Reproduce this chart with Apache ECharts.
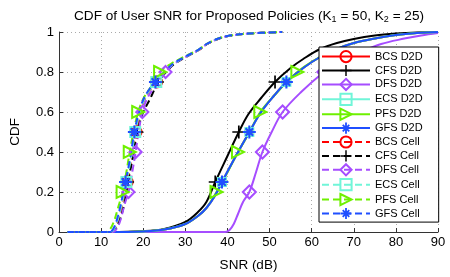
<!DOCTYPE html>
<html>
<head>
<meta charset="utf-8">
<script src="https://cdn.jsdelivr.net/npm/echarts@6/dist/echarts.min.js"></script>
<style>html,body{margin:0;padding:0;background:#fff}#c{width:450px;height:277px}</style>
</head>
<body>
<div id="c"></div>
<script>
// ---- data (SNR dB, CDF) ----
const seriesNames = ['BCS D2D','CFS D2D','DFS D2D','ECS D2D','PFS D2D','GFS D2D',
                     'BCS Cell','CFS Cell','DFS Cell','ECS Cell','PFS Cell','GFS Cell'];
const xTicks = [0,10,20,30,40,50,60,70,80,90];
const yTicks = [0,0.2,0.4,0.6,0.8,1];
const levels3 = [0.25,0.5,0.75];
const levels4 = [0.2,0.4,0.6,0.8];

const gfsD2D = [[2,0],[12,0],[20,0.003],[25,0.012],[30,0.04],[33,0.08],[35,0.12],[37,0.18],[38.7,0.25],[42,0.38],[45.2,0.5],[48,0.6],[51,0.68],[54,0.75],[58,0.82],[62,0.875],[66,0.915],[70,0.945],[75,0.968],[80,0.985],[85,0.995],[90,1]];
const bcsD2D = [[2,0],[12,0],[20,0.003],[25,0.012],[30,0.04],[33,0.08],[35,0.12],[37,0.18],[38.7,0.25],[42,0.38],[45.2,0.5],[48,0.6],[51,0.68],[54,0.75],[58,0.82],[62,0.875],[66,0.915],[70,0.945],[75,0.968],[80,0.985],[85,0.995],[90,1]];
const ecsD2D = [[2,0],[12,0],[20,0.003],[25,0.012],[30,0.04],[33,0.08],[35,0.12],[37,0.18],[38.7,0.25],[42,0.38],[45.2,0.5],[48,0.6],[51,0.68],[54,0.75],[58,0.82],[62,0.875],[66,0.915],[70,0.945],[75,0.968],[80,0.985],[85,0.995],[90,1]];
const pfsD2D = [[2,0],[12,0],[20,0.003],[25,0.012],[30,0.04],[33,0.08],[35,0.12],[37.4,0.2],[40.3,0.31],[42.5,0.4],[45,0.49],[47.8,0.6],[51,0.68],[56.6,0.8],[62,0.875],[66,0.915],[70,0.945],[75,0.968],[80,0.985],[85,0.995],[90,1]];
const cfsD2D = [[2,0],[12,0],[20,0.004],[25,0.015],[30,0.05],[33,0.1],[35,0.15],[37.1,0.25],[40,0.38],[42.7,0.5],[45,0.59],[48,0.67],[51.3,0.75],[55,0.82],[58,0.865],[62,0.915],[66,0.945],[70,0.965],[75,0.982],[80,0.992],[85,0.998],[90,1]];
const dfsD2D = [[2,0],[39.5,0],[40.5,0.01],[41.5,0.04],[42.5,0.09],[43.7,0.15],[45.2,0.2],[46.8,0.3],[48.3,0.4],[50.5,0.5],[53.1,0.6],[57.5,0.7],[62.9,0.8],[66,0.845],[70,0.885],[76.5,0.94],[82,0.967],[86,0.983],[90,0.995]];

const gfsCell = [[2,0],[12,0],[13,0.02],[14,0.08],[15,0.17],[15.8,0.25],[16.9,0.37],[17.9,0.5],[19,0.6],[20.2,0.67],[21.5,0.715],[22.9,0.75],[25,0.8],[27,0.84],[30,0.877],[33,0.91],[35,0.94],[37.5,0.965],[40,0.98],[45,0.992],[53,1]];
const ecsCell = [[2,0],[12.2,0],[13.2,0.02],[14.2,0.08],[15.2,0.17],[16,0.25],[17.1,0.37],[18.1,0.5],[19.2,0.6],[20.4,0.67],[21.7,0.715],[23.1,0.75],[25.1,0.8],[27.1,0.84],[30.1,0.877],[33.1,0.91],[35.1,0.94],[37.6,0.965],[40.1,0.98],[45,0.992],[53,1]];
const bcsCell = [[2,0],[12.3,0],[13.3,0.02],[14.3,0.08],[15.3,0.17],[16.2,0.25],[17.2,0.37],[18.3,0.5],[19.3,0.6],[20.5,0.67],[21.8,0.715],[23.2,0.75],[25.2,0.8],[27.2,0.84],[30.2,0.877],[33.2,0.91],[35.2,0.94],[37.7,0.965],[40.2,0.98],[45,0.992],[53,1]];
const cfsCell = [[2,0],[12.6,0],[13.6,0.02],[14.6,0.07],[15.6,0.15],[16.4,0.25],[17.6,0.38],[18.6,0.5],[20,0.6],[21.5,0.66],[22.6,0.71],[23.5,0.75],[25.4,0.8],[27.4,0.84],[30.3,0.877],[33.2,0.91],[35.2,0.94],[37.7,0.965],[40.2,0.98],[45,0.992],[53,1]];
const dfsCell = [[2,0],[12.8,0],[13.8,0.02],[14.6,0.06],[15.6,0.14],[16.5,0.2],[17.4,0.3],[18.2,0.4],[18.9,0.5],[19.8,0.6],[21,0.67],[22.5,0.72],[24.1,0.77],[25.3,0.8],[27.3,0.84],[30.2,0.877],[33.2,0.91],[35.2,0.94],[37.7,0.965],[40.2,0.98],[45,0.992],[53,1]];
const pfsCell = [[2,0],[11,0],[12,0.01],[13,0.05],[14,0.12],[15.1,0.2],[16,0.3],[16.8,0.4],[17.7,0.5],[18.8,0.6],[20,0.665],[21.3,0.71],[22.7,0.75],[24,0.8],[26.5,0.84],[29.8,0.877],[33,0.91],[35,0.94],[37.5,0.965],[40,0.98],[45,0.992],[53,1]];

// ---- styling helpers ----
const FONT = 'Liberation Sans, Arial, Helvetica, sans-serif';
const C = {red:'#ff0000', black:'#000000', purple:'#a64dff', cyan:'#70f5d8', green:'#6ef000', blue:'#1f4fff'};
const PLUS = 'path://M-1,-0.13 L1,-0.13 L1,0.13 L-1,0.13 Z M-0.13,-1 L0.13,-1 L0.13,1 L-0.13,1 Z';
const ASTER = 'path://M-1,-0.16 L1,-0.16 L1,0.16 L-1,0.16 Z M-0.16,-1 L0.16,-1 L0.16,1 L-0.16,1 Z ' +
  'M0.47,0.7 L-0.7,-0.47 L-0.47,-0.7 L0.7,0.47 Z M0.7,-0.47 L-0.47,0.7 L-0.7,0.47 L0.47,-0.7 Z';
const TRI = 'path://M0,0 L1,0.5 L0,1 Z';

const specs = [
  {pts:bcsD2D, color:C.red,    dash:false, sym:'circle',  lv:levels3, hollow:true,  size:8},
  {pts:cfsD2D, color:C.black,  dash:false, sym:PLUS,      lv:levels3, hollow:false, size:13},
  {pts:dfsD2D, color:C.purple, dash:false, sym:'diamond', lv:levels4, hollow:true,  size:13},
  {pts:ecsD2D, color:C.cyan,   dash:false, sym:'rect',    lv:levels3, hollow:true,  size:8},
  {pts:pfsD2D, color:C.green,  dash:false, sym:TRI,       lv:levels4, hollow:true,  size:12},
  {pts:gfsD2D, color:C.blue,   dash:false, sym:ASTER,     lv:levels3, hollow:false, size:13},
  {pts:bcsCell, color:C.red,    dash:true, sym:'circle',  lv:levels3, hollow:true,  size:11},
  {pts:cfsCell, color:C.black,  dash:true, sym:PLUS,      lv:levels3, hollow:false, size:12},
  {pts:dfsCell, color:C.purple, dash:true, sym:'diamond', lv:levels4, hollow:true,  size:12},
  {pts:ecsCell, color:C.cyan,   dash:true, sym:'rect',    lv:levels3, hollow:true,  size:10},
  {pts:pfsCell, color:C.green,  dash:true, sym:TRI,       lv:levels4, hollow:true,  size:12},
  {pts:gfsCell, color:C.blue,   dash:true, sym:ASTER,     lv:levels3, hollow:false, size:13}
];

const series = specs.map((s, i) => ({
  name: seriesNames[i],
  type: 'line',
  smooth: 0.35,
  symbol: s.sym,
  symbolSize: s.size,
  showAllSymbol: true,
  animation: false,
  lineStyle: {color: s.color, width: 2, type: s.dash ? [7,4] : 'solid'},
  itemStyle: s.hollow ? {color: 'rgba(255,255,255,0)', borderColor: s.color, borderWidth: 2}
                      : {color: s.color, borderWidth: 0},
  emphasis: {disabled: true},
  data: s.pts.map(p => s.lv.indexOf(p[1]) >= 0 ? {value: p} : {value: p, symbol: 'none'})
}));

const chart = echarts.init(document.getElementById('c'), null, {renderer: 'canvas'});
chart.setOption({
  backgroundColor: '#fff',
  animation: false,
  textStyle: {fontFamily: FONT},
  title: {
    text: 'CDF of User SNR for Proposed Policies (K{s|1} = 50, K{s|2} = 25)',
    left: 244, top: 3, textAlign: 'center',
    textStyle: {fontSize: 13.6, fontWeight: 'normal', color: '#000', fontFamily: FONT,
      rich: {s: {fontSize: 9, verticalAlign: 'bottom', padding: [7,0,0,0], color: '#000', fontFamily: FONT}}}
  },
  grid: {left: 50, right: 12, top: 32, bottom: 34, containLabel: false},
  legend: {
    data: seriesNames,
    orient: 'vertical', left: 319, top: 47,
    itemWidth: 48, itemHeight: 14, itemGap: 1.7,
    padding: [3, 16, 3, 2],
    borderColor: '#000', borderWidth: 1, backgroundColor: '#fff',
    textStyle: {fontSize: 11, color: '#000', fontFamily: FONT},
    selectedMode: false
  },
  xAxis: {
    type: 'value', min: xTicks[0], max: xTicks[xTicks.length-1], interval: 10,
    name: 'SNR (dB)', nameLocation: 'middle', nameGap: 26,
    nameTextStyle: {fontSize: 13.5, color: '#000', fontFamily: FONT},
    axisLine: {show: true, lineStyle: {color: '#333', width: 1}},
    axisTick: {show: true, inside: true, length: 4, lineStyle: {color: '#333'}},
    axisLabel: {fontSize: 13, color: '#000', margin: 4, fontFamily: FONT},
    splitLine: {show: true, lineStyle: {color: '#aaa', type: [1,3], width: 1}}
  },
  yAxis: {
    type: 'value', min: yTicks[0], max: yTicks[yTicks.length-1], interval: 0.2,
    name: 'CDF', nameLocation: 'middle', nameGap: 37,
    nameTextStyle: {fontSize: 13.5, color: '#000', fontFamily: FONT},
    axisLine: {show: true, lineStyle: {color: '#333', width: 1}},
    axisTick: {show: true, inside: true, length: 4, lineStyle: {color: '#333'}},
    axisLabel: {fontSize: 13, color: '#000', margin: 5, fontFamily: FONT},
    splitLine: {show: true, lineStyle: {color: '#aaa', type: [1,3], width: 1}}
  },
  series: series
});
</script>
</body>
</html>
